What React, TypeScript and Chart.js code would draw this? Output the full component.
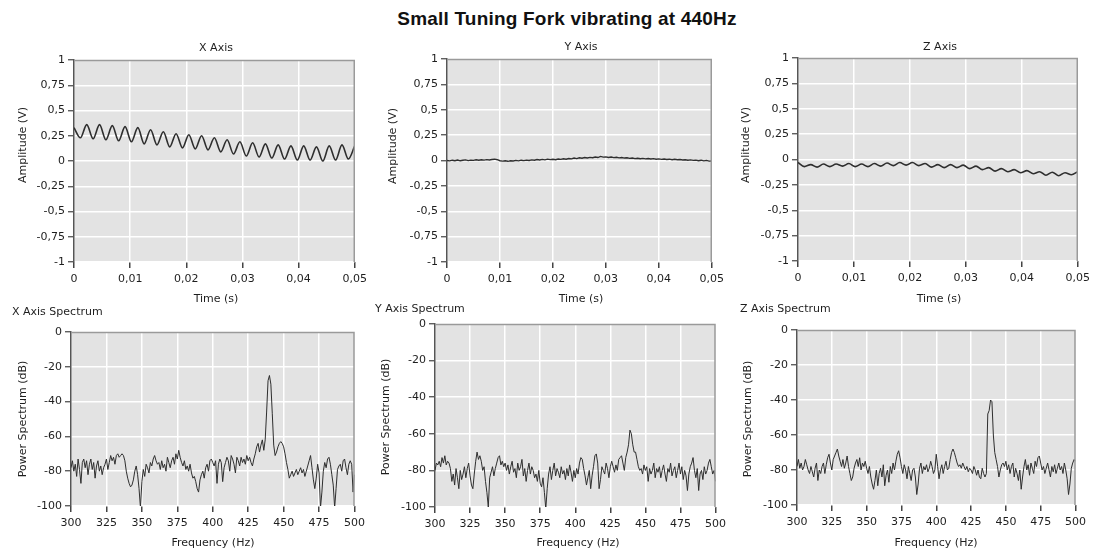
import React, { useEffect, useRef } from 'react';
import { Chart, registerables } from 'chart.js';

Chart.register(...registerables);

// ---------- DATA ----------
const MAIN_TITLE = 'Small Tuning Fork vibrating at 440Hz';

// time-domain sampling grids (seconds between samples)
const TIME_MIN = 0;
const TIME_MAX = 0.05;
const XZ_SAMPLE_STEP = 0.05 / 44; // half-periods of the 440 Hz tone
const Y_SAMPLE_STEP = 0.0005;

// X axis amplitude (V), alternating crest / trough
const X_SIGNAL = [
  0.33, 0.23, 0.36, 0.22, 0.36, 0.21, 0.35, 0.2, 0.34, 0.19,
  0.33, 0.17, 0.31, 0.16, 0.29, 0.14, 0.27, 0.13, 0.26, 0.12,
  0.25, 0.11, 0.23, 0.09, 0.21, 0.07, 0.19, 0.05, 0.18, 0.04,
  0.17, 0.03, 0.16, 0.02, 0.15, 0.01, 0.15, 0.01, 0.14, 0.0,
  0.15, 0.01, 0.16, 0.02, 0.15,
];

// Y axis amplitude (V)
const Y_SIGNAL = [
  0.0, -0.004, 0.003, -0.002, 0.004, -0.003, 0.002, 0.006, -0.001, 0.004,
  0.001, 0.007, 0.003, 0.008, 0.004, 0.009, 0.005, 0.01, 0.013, 0.008,
  -0.002, -0.006, -0.003, -0.008, -0.002, -0.005, 0.001, -0.004, 0.003, -0.001,
  0.004, 0.0, 0.006, 0.002, 0.009, 0.005, 0.011, 0.006, 0.013, 0.009,
  0.012, 0.008, 0.015, 0.011, 0.017, 0.013, 0.02, 0.016, 0.024, 0.019,
  0.027, 0.022, 0.029, 0.025, 0.031, 0.027, 0.034, 0.029, 0.04, 0.033,
  0.036, 0.03, 0.034, 0.028, 0.032, 0.026, 0.029, 0.024, 0.027, 0.021,
  0.024, 0.019, 0.022, 0.017, 0.021, 0.016, 0.019, 0.015, 0.018, 0.013,
  0.016, 0.011, 0.015, 0.01, 0.013, 0.008, 0.012, 0.007, 0.01, 0.005,
  0.008, 0.003, 0.006, 0.001, 0.004, -0.002, 0.003, -0.004, 0.001, -0.006,
  -0.005,
];

// Z axis amplitude (V)
const Z_SIGNAL = [
  -0.03, -0.07, -0.05, -0.075, -0.045, -0.07, -0.045, -0.065, -0.04, -0.07,
  -0.045, -0.07, -0.04, -0.065, -0.035, -0.06, -0.03, -0.055, -0.03, -0.06,
  -0.04, -0.075, -0.05, -0.08, -0.05, -0.08, -0.055, -0.09, -0.065, -0.1,
  -0.08, -0.115, -0.09, -0.12, -0.1, -0.13, -0.11, -0.14, -0.12, -0.155,
  -0.125, -0.16, -0.13, -0.15, -0.12,
];

// spectra: 300 .. 500 Hz, 1 Hz bins
const FREQ_START = 300;
const FREQ_STEP = 1;

const X_SPECTRUM = [
  -78, -74, -80, -76, -83, -73, -79, -87, -75, -73,
  -78, -74, -82, -76, -73, -79, -75, -84, -77, -74,
  -80, -77, -82, -78, -76, -73, -79, -75, -71, -74,
  -72, -76, -71, -70, -72, -71, -70, -71, -74, -80,
  -84, -87, -89, -88, -85, -80, -77, -82, -90, -101,
  -86, -79, -83, -76, -78, -81, -75, -77, -73, -71,
  -74, -76, -75, -79, -74, -78, -76, -80, -72, -75,
  -78, -74, -72, -76, -70, -73, -68, -72, -75, -77,
  -74, -79, -77, -80, -76, -81, -84, -83, -86, -90,
  -92, -85, -82, -80, -84, -78, -76, -80, -74, -73,
  -75, -77, -74, -87, -76, -73, -75, -86, -78, -75,
  -72, -74, -80, -71, -73, -76, -81, -72, -74, -77,
  -72, -75, -73, -76, -71, -74, -72, -75, -77, -73,
  -70, -66, -64, -69, -65, -62, -68, -62, -46, -28,
  -25, -30, -47, -65, -71, -69, -66, -64, -63, -64,
  -66, -70, -75, -79, -84, -82, -80, -83, -81, -79,
  -82, -80, -78, -81, -79, -83, -80, -77, -74, -71,
  -78, -85, -90, -84, -76, -81, -101, -92, -80, -75,
  -78, -73, -72, -76, -82, -88, -101, -90, -79, -77,
  -76, -80, -74, -73, -78, -82, -76, -74, -76, -92,
  -82,
];

const Y_SPECTRUM = [
  -80, -76, -77, -75, -78, -73, -76, -72, -77, -75,
  -76, -79, -86, -82, -88, -79, -84, -90, -80, -85,
  -82, -78, -84, -79, -76, -83, -88, -90, -82, -75,
  -70, -74, -72, -75, -80, -78, -86, -92, -100, -84,
  -81, -78, -83, -79, -76, -73, -72, -77, -75, -78,
  -76, -80, -77, -82, -78, -75, -81, -79, -84, -76,
  -80, -78, -74, -83, -79, -86, -80, -76, -82, -78,
  -80, -84, -82, -86, -80, -87, -89, -84, -92, -101,
  -90, -82, -78, -85, -80, -76, -83, -79, -81, -84,
  -78, -82, -80, -85, -79, -83, -77, -81, -86, -80,
  -84, -79, -82, -76, -73, -74, -79, -83, -88, -84,
  -80, -90, -83, -78, -72, -71, -76, -90, -85, -78,
  -80, -82, -76, -79, -84, -78, -75, -78, -81, -77,
  -80, -74, -73, -72, -76, -80, -73, -70, -66, -58,
  -60, -66, -70, -70, -74, -78, -80, -79, -82, -77,
  -80, -78, -86, -79, -82, -80, -76, -84, -79, -81,
  -78, -84, -80, -77, -82, -86, -79, -81, -76, -83,
  -80, -78, -84, -80, -76, -82, -78, -85, -80, -83,
  -91, -82, -78, -76, -73, -80, -84, -79, -91, -82,
  -80, -85, -78, -82, -80, -76, -74, -78, -82, -80,
  -86,
];

const Z_SPECTRUM = [
  -78, -74, -79, -76, -80, -78, -74, -77, -80, -82,
  -78, -81, -84, -79, -76, -86, -80, -82, -78, -76,
  -82, -77, -73, -71, -76, -80, -74, -72, -70, -68,
  -72, -75, -78, -74, -79, -76, -72, -78, -82, -86,
  -84, -79, -76, -74, -78, -73, -80, -76, -78, -75,
  -79, -82, -78, -84, -88, -91, -86, -80, -89, -82,
  -79, -84, -77, -89, -83, -80, -87, -78, -82, -76,
  -80, -75, -71, -69, -73, -78, -82, -77, -80, -85,
  -78, -82, -86, -80, -79, -84, -94, -88, -79, -76,
  -82, -78, -80, -77, -81, -79, -75, -78, -82, -80,
  -71, -78, -85, -80, -77, -82, -78, -75, -80, -79,
  -74, -70, -68, -70, -73, -76, -78, -77, -79, -76,
  -78, -80, -78, -81, -79, -80, -82, -78, -80, -83,
  -80, -84, -85, -79, -82, -84, -82, -48, -46, -40,
  -41, -60, -70, -74, -78, -84, -80, -77, -76, -78,
  -75, -80, -77, -82, -78, -76, -84, -79, -82, -86,
  -80, -91, -84, -78, -74, -80, -77, -83, -76, -79,
  -82, -75, -78, -73, -72, -76, -80, -78, -82, -79,
  -76, -80, -84, -78, -81, -77, -82, -79, -76, -80,
  -78, -82, -76, -80, -85, -94, -88, -79, -76, -74,
  -75,
];

// axis settings
const AMP_MIN = -1;
const AMP_MAX = 1;
const AMP_STEP = 0.25;
const TIME_TICK_STEP = 0.01;
const FREQ_MIN = 300;
const FREQ_MAX = 500;
const FREQ_TICK_STEP = 25;
const DB_MIN = -100;
const DB_MAX = 0;
const DB_STEP = 20;

// ---------- STYLE / LAYOUT ----------
const FONT = "'DejaVu Sans', Verdana, sans-serif";
const TEXT_COLOR = '#1e1e1e';
const PLOT_BG = '#e3e3e3';
const LINE_COLOR = '#2e2e2e';
const Y_AXIS_W = 70;
const X_AXIS_H = 45;
const PAD_T = 12;
const PAD_R = 14;

const fmtComma = (v: number) => String(Math.round(v * 100) / 100).replace('.', ',');

const toXY = (vals: number[], start: number, step: number) =>
  vals.map((y, i) => ({ x: start + i * step, y }));

type PanelDef = {
  id: string;
  L: number; T: number; R: number; B: number;
  kind: 'time' | 'spec';
  values: number[];
  start: number;
  step: number;
  smooth: boolean;
  lineWidth: number;
};

const PANELS: PanelDef[] = [
  { id: 'tx', L: 74, T: 60, R: 358, B: 262, kind: 'time', values: X_SIGNAL, start: TIME_MIN, step: XZ_SAMPLE_STEP, smooth: true, lineWidth: 1.6 },
  { id: 'ty', L: 447, T: 59, R: 715, B: 262, kind: 'time', values: Y_SIGNAL, start: TIME_MIN, step: Y_SAMPLE_STEP, smooth: false, lineWidth: 1.4 },
  { id: 'tz', L: 798, T: 58, R: 1081, B: 261, kind: 'time', values: Z_SIGNAL, start: TIME_MIN, step: XZ_SAMPLE_STEP, smooth: true, lineWidth: 1.6 },
  { id: 'sx', L: 71, T: 332, R: 356, B: 506, kind: 'spec', values: X_SPECTRUM, start: FREQ_START, step: FREQ_STEP, smooth: false, lineWidth: 1 },
  { id: 'sy', L: 435, T: 324, R: 717, B: 507, kind: 'spec', values: Y_SPECTRUM, start: FREQ_START, step: FREQ_STEP, smooth: false, lineWidth: 1 },
  { id: 'sz', L: 797, T: 330, R: 1077, B: 505, kind: 'spec', values: Z_SPECTRUM, start: FREQ_START, step: FREQ_STEP, smooth: false, lineWidth: 1 },
];

type TextDef = { text: string; x: number; y: number; rotate?: boolean; left?: boolean };

const TEXTS: TextDef[] = [
  { text: 'X Axis', x: 216, y: 47 },
  { text: 'Y Axis', x: 581, y: 46 },
  { text: 'Z Axis', x: 940, y: 46 },
  { text: 'Amplitude (V)', x: 22, y: 145, rotate: true },
  { text: 'Amplitude (V)', x: 392, y: 146, rotate: true },
  { text: 'Amplitude (V)', x: 745, y: 145, rotate: true },
  { text: 'Time (s)', x: 216, y: 298 },
  { text: 'Time (s)', x: 581, y: 298 },
  { text: 'Time (s)', x: 939, y: 298 },
  { text: 'X Axis Spectrum', x: 12, y: 311, left: true },
  { text: 'Y Axis Spectrum', x: 375, y: 308, left: true },
  { text: 'Z Axis Spectrum', x: 740, y: 308, left: true },
  { text: 'Power Spectrum (dB)', x: 22, y: 419, rotate: true },
  { text: 'Power Spectrum (dB)', x: 385, y: 417, rotate: true },
  { text: 'Power Spectrum (dB)', x: 747, y: 419, rotate: true },
  { text: 'Frequency (Hz)', x: 213, y: 542 },
  { text: 'Frequency (Hz)', x: 578, y: 542 },
  { text: 'Frequency (Hz)', x: 936, y: 542 },
];

const framePlugin = {
  id: 'plotFrame',
  beforeDraw(chart: any) {
    const { ctx, chartArea } = chart;
    if (!chartArea) return;
    ctx.save();
    ctx.fillStyle = PLOT_BG;
    ctx.fillRect(chartArea.left, chartArea.top, chartArea.right - chartArea.left, chartArea.bottom - chartArea.top);
    ctx.restore();
  },
  afterDraw(chart: any) {
    const { ctx, chartArea } = chart;
    if (!chartArea) return;
    ctx.save();
    ctx.strokeStyle = '#9a9a9a';
    ctx.lineWidth = 1.5;
    ctx.beginPath();
    ctx.moveTo(chartArea.left, chartArea.top + 0.5);
    ctx.lineTo(chartArea.right - 0.5, chartArea.top + 0.5);
    ctx.lineTo(chartArea.right - 0.5, chartArea.bottom);
    ctx.stroke();
    ctx.restore();
  },
};

function ChartPanel({ p }: { p: PanelDef }) {
  const ref = useRef<HTMLCanvasElement | null>(null);
  const width = p.R - p.L + Y_AXIS_W + PAD_R;
  const height = p.B - p.T + PAD_T + X_AXIS_H;

  useEffect(() => {
    if (!ref.current) return;
    const isTime = p.kind === 'time';
    const chart = new Chart(ref.current, {
      type: 'line',
      data: {
        datasets: [
          {
            data: toXY(p.values, p.start, p.step),
            borderColor: LINE_COLOR,
            borderWidth: p.lineWidth,
            pointRadius: 0,
            fill: false,
            tension: 0,
            cubicInterpolationMode: p.smooth ? 'monotone' : 'default',
          } as any,
        ],
      },
      plugins: [framePlugin],
      options: {
        animation: false,
        responsive: false,
        devicePixelRatio: 1,
        layout: { padding: { left: 0, top: PAD_T, right: PAD_R, bottom: 0 } },
        plugins: {
          legend: { display: false },
          tooltip: { enabled: false },
          title: { display: false },
        },
        scales: {
          x: {
            type: 'linear',
            min: isTime ? TIME_MIN : FREQ_MIN,
            max: isTime ? TIME_MAX : FREQ_MAX,
            ticks: {
              stepSize: isTime ? TIME_TICK_STEP : FREQ_TICK_STEP,
              callback: (v: any) => fmtComma(Number(v)),
              color: TEXT_COLOR,
              font: { family: FONT, size: 11 },
              padding: 5,
              maxRotation: 0,
              autoSkip: false,
            },
            grid: {
              color: '#ffffff',
              lineWidth: 1.5,
              tickColor: '#444444',
              tickLength: 6,
              tickWidth: 1.5,
            },
            border: { display: false },
            afterFit: (s: any) => {
              s.height = X_AXIS_H;
            },
          },
          y: {
            type: 'linear',
            min: isTime ? AMP_MIN : DB_MIN,
            max: isTime ? AMP_MAX : DB_MAX,
            ticks: {
              stepSize: isTime ? AMP_STEP : DB_STEP,
              callback: (v: any) => fmtComma(Number(v)),
              color: TEXT_COLOR,
              font: { family: FONT, size: 11 },
              padding: 3,
              autoSkip: false,
            },
            grid: {
              color: '#ffffff',
              lineWidth: 1.5,
              tickColor: '#444444',
              tickLength: 6,
              tickWidth: 1.2,
            },
            border: { display: true, color: '#555555', width: 1.5 },
            afterFit: (s: any) => {
              s.width = Y_AXIS_W;
            },
          },
        },
      } as any,
    });
    return () => chart.destroy();
  }, [p]);

  return (
    <canvas
      ref={ref}
      width={width}
      height={height}
      style={{
        position: 'absolute',
        left: p.L - Y_AXIS_W,
        top: p.T - PAD_T,
        width,
        height,
      }}
    />
  );
}

function Label({ t }: { t: TextDef }) {
  let transform = 'translate(-50%, -50%)';
  if (t.rotate) transform = 'translate(-50%, -50%) rotate(-90deg)';
  if (t.left) transform = 'translate(0, -50%)';
  return (
    <div
      style={{
        position: 'absolute',
        left: t.x,
        top: t.y,
        transform,
        whiteSpace: 'nowrap',
        fontFamily: FONT,
        fontSize: 11,
        lineHeight: '13px',
        color: TEXT_COLOR,
      }}
    >
      {t.text}
    </div>
  );
}

export default function App() {
  return (
    <div
      style={{
        position: 'absolute',
        left: 0,
        top: 0,
        width: 1097,
        height: 554,
        overflow: 'hidden',
        background: '#ffffff',
      }}
    >
      <div
        style={{
          position: 'absolute',
          left: 567,
          top: 19,
          transform: 'translate(-50%, -50%)',
          whiteSpace: 'nowrap',
          fontFamily: "'Liberation Sans', Arial, sans-serif",
          fontWeight: 'bold',
          fontSize: 19,
          letterSpacing: '0.2px',
          lineHeight: '22px',
          color: '#111111',
        }}
      >
        {MAIN_TITLE}
      </div>
      {PANELS.map((p) => (
        <ChartPanel key={p.id} p={p} />
      ))}
      {TEXTS.map((t, i) => (
        <Label key={i} t={t} />
      ))}
    </div>
  );
}
